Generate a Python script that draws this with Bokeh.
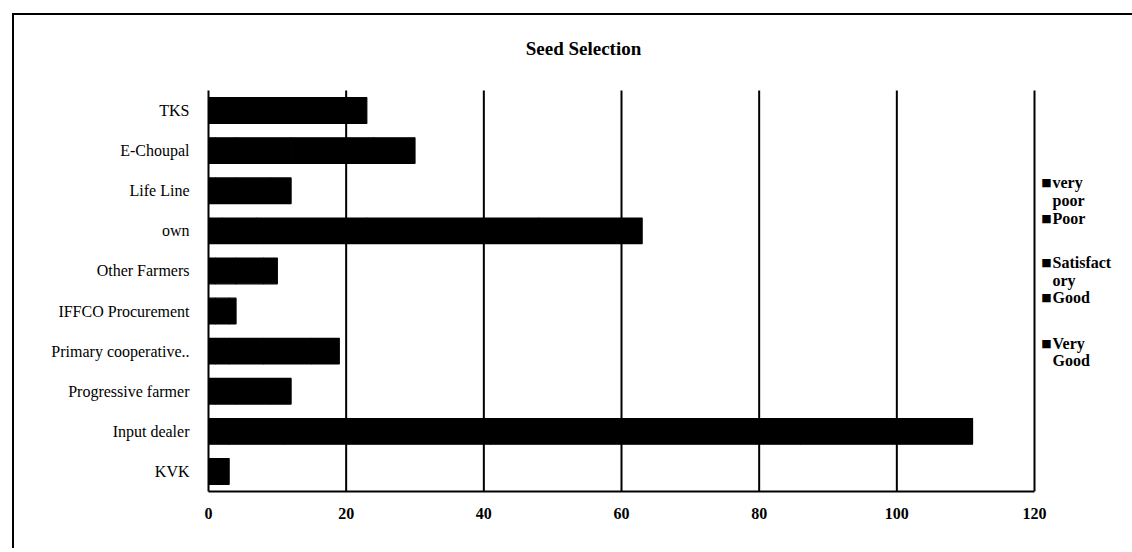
from bokeh.plotting import figure
from bokeh.models import FixedTicker, Label
from bokeh.embed import file_html
from bokeh.resources import INLINE

# ---- data ----
categories = ["TKS", "E-Choupal", "Life Line", "own", "Other Farmers",
              "IFFCO Procurement", "Primary cooperative..", "Progressive farmer",
              "Input dealer", "KVK"]
series_names = ["very poor", "Poor", "Satisfactory", "Good", "Very Good"]
very_poor    = [0, 1, 0, 2, 0, 0, 1, 0, 3, 0]
poor         = [2, 3, 1, 5, 1, 0, 2, 1, 8, 0]
satisfactory = [5, 8, 3, 16, 3, 1, 5, 3, 30, 1]
good         = [10, 12, 5, 25, 4, 2, 7, 5, 45, 1]
very_good    = [6, 6, 3, 15, 2, 1, 4, 3, 25, 1]
x_ticks = [0, 20, 40, 60, 80, 100, 120]
x_max = 120
title_text = "Seed Selection"
legend_lines = [["very", "poor"], ["Poor"], ["Satisfact", "ory"], ["Good"], ["Very", "Good"]]

FONT = "Liberation Serif"
PAGE_W, PAGE_H = 1132, 552
BX, BY = 12, 13          # outer border position on the page
BW = 2                   # border width
OX, OY = BX + BW, BY + BW  # origin of the figure on the page
W, H = PAGE_W - OX + 6, PAGE_H - OY - 2
FL, FR, FT, FB = 208, 1034, 90, 491   # chart area edges, page px
n = len(categories)

# the frame spans to the right and top edges so that the legend and title fit inside it
x_end = x_max * (OX + W - FL) / (FR - FL)
y_end = n * (FB - OY) / (FB - FT)

p = figure(width=W, height=H, x_range=(0, x_end), y_range=(0, y_end),
           output_backend="svg", toolbar_location=None,
           min_border_left=FL - OX, min_border_right=0,
           min_border_top=0, min_border_bottom=OY + H - FB)
p.title.visible = False
p.outline_line_color = None
p.background_fill_color = "white"
p.border_fill_color = "white"
p.styles = {"margin-left": f"{BX}px", "margin-top": f"{BY}px",
            "border-left": f"{BW}px solid black", "border-top": f"{BW}px solid black"}

def dx(px):
    return (px - FL) / (FR - FL) * x_max

def dy(py):
    return (FB - py) / (FB - FT) * n

ys = [n - 0.5 - i for i in range(n)]
data = dict(y=ys, vp=very_poor, p=poor, s=satisfactory, g=good, vg=very_good)
p.hbar_stack(["vp", "p", "s", "g", "vg"], y="y", height=0.64, source=data,
             fill_color=["black"] * 5, line_color=["black"] * 5, line_width=1.2)

# vertical grid lines of the chart area
grid_x = x_ticks[1:]
p.segment(x0=grid_x, y0=[0] * len(grid_x), x1=grid_x, y1=[n] * len(grid_x),
          line_color="black", line_width=2)

# axes
p.xaxis.ticker = FixedTicker(ticks=x_ticks)
p.xaxis.bounds = (0, x_max)
p.xaxis.major_tick_line_color = None
p.xaxis.minor_tick_line_color = None
p.xaxis.major_label_standoff = 10
p.xaxis.major_label_text_font = FONT
p.xaxis.major_label_text_font_style = "bold"
p.xaxis.major_label_text_font_size = "16px"
p.xaxis.major_label_text_color = "black"
p.xaxis.axis_line_color = "black"
p.xaxis.axis_line_width = 2

p.yaxis.ticker = FixedTicker(ticks=ys)
p.yaxis.bounds = (0, n)
p.yaxis.major_label_overrides = {y: c for y, c in zip(ys, categories)}
p.yaxis.major_tick_line_color = None
p.yaxis.minor_tick_line_color = None
p.yaxis.major_label_standoff = 13
p.yaxis.major_label_text_font = FONT
p.yaxis.major_label_text_font_size = "16px"
p.yaxis.major_label_text_color = "black"
p.yaxis.axis_line_color = "black"
p.yaxis.axis_line_width = 2

p.xgrid.grid_line_color = None
p.ygrid.grid_line_color = None

# title
p.add_layout(Label(x=dx(583), y=dy(48), text=title_text, text_align="center",
                   text_baseline="middle", text_font=FONT, text_font_style="bold",
                   text_font_size="19px", text_color="black"))

# legend (wrapped labels, as in the original)
legend_y = [[182, 200], [218], [262, 280], [297], [343, 360]]
for lines, pys in zip(legend_lines, legend_y):
    p.add_layout(Label(x=dx(1046), y=dy(pys[0]), text="\u25a0", text_align="center",
                       text_baseline="middle", text_font="DejaVu Sans",
                       text_font_size="11px", text_color="black"))
    for t, py in zip(lines, pys):
        p.add_layout(Label(x=dx(1052), y=dy(py), text=t, text_align="left",
                           text_baseline="middle", text_font=FONT,
                           text_font_style="bold",
                           text_font_size="16px", text_color="black"))

open("out.html", "w").write(file_html(p, INLINE))
